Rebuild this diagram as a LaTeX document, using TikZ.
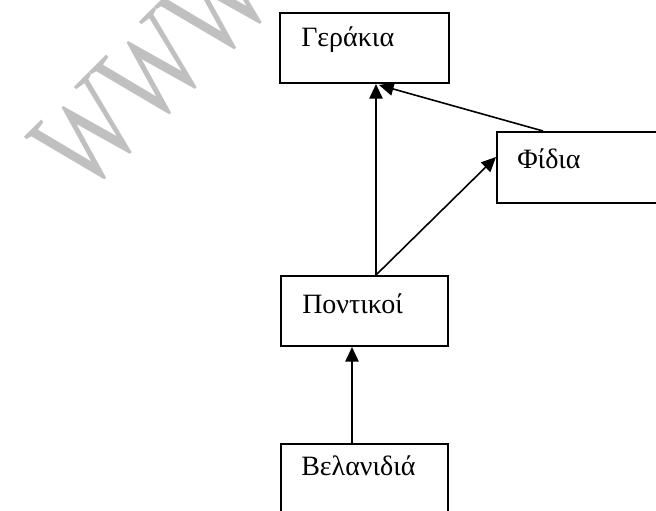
\documentclass[tikz,border=0pt]{standalone}
\usepackage{fontspec}
\usepackage{graphicx}
\setmainfont{Liberation Serif}
\usetikzlibrary{arrows.meta,calc}
\definecolor{wmgray}{HTML}{C0C0C0}
\tikzset{
  box/.style={draw, line width=1.5pt, inner sep=0pt, anchor=north west},
  lbl/.style={anchor=base west, inner sep=0pt, font=\fontsize{21}{24}\selectfont},
  conn/.style={line width=1.2pt, -{Triangle[length=11pt,width=10pt]}},
  wmark/.style={anchor=base west, inner sep=0pt, text=wmgray, font=\fontsize{97.5}{105}\selectfont},
}
\begin{document}
\begin{tikzpicture}[x=0.75pt,y=-0.75pt]
\useasboundingbox (0,0) rectangle (656,510);
\clip (0,0) rectangle (656,510);
% watermark
\node[wmark, rotate=45] (wm) at (84,198) {\scalebox{0.75}[1]{WWWW}};
% boxes
\node[box, minimum width=126.75pt, minimum height=52.5pt] (g) at (279,12) {};
\node[box, minimum width=127.5pt, minimum height=53.25pt] (f) at (496,131) {};
\node[box, minimum width=125.25pt, minimum height=52.5pt] (p) at (280,275) {};
\node[box, minimum width=125.25pt, minimum height=67.5pt] (b) at (280,443) {};
% labels
\node[lbl] (gt) at (301,47) {Γεράκια};
\node[lbl] (ft) at (517,168) {Φίδια};
\node[lbl] (pt) at (302,313) {Ποντικοί};
\node[lbl] (bt) at (301,475) {Βελανιδιά};
% connectors
\draw[conn] ($(p.north west)+(96,0)$) -- ($(g.south west)+(97,0)$);
\draw[conn] ($(f.north west)+(47,0)$) -- ($(g.south west)+(100,1)$);
\draw[conn] ($(p.north west)+(96,0)$) -- ($(f.north west)+(0,26)$);
\draw[conn] ($(b.north west)+(72,0)$) -- ($(p.south west)+(72,0)$);
\end{tikzpicture}
\end{document}
